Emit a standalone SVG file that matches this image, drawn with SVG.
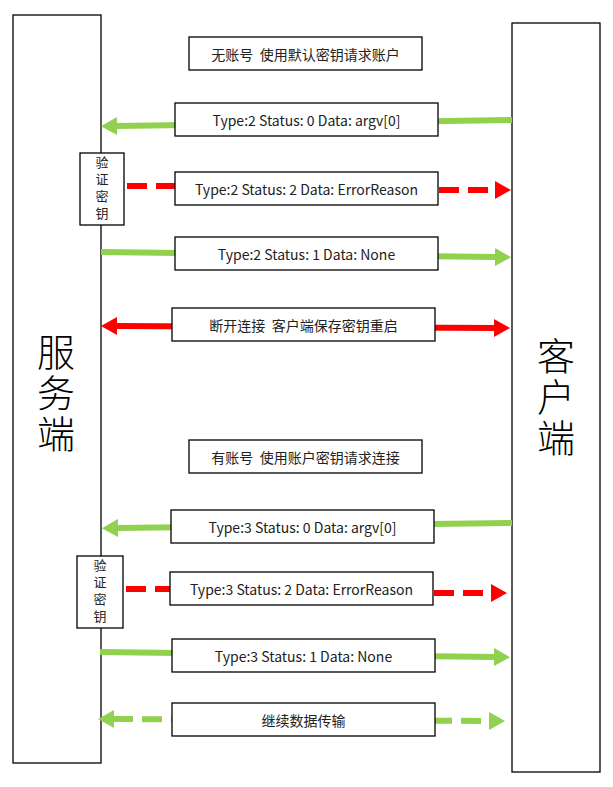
<svg xmlns="http://www.w3.org/2000/svg" width="613" height="787" viewBox="0 0 613 787">
<style>
.box{fill:#fff;stroke:#000;stroke-width:1.3}
.t{font-family:"Noto Sans CJK SC","Noto Sans",sans-serif;font-size:14px;fill:#222;text-anchor:middle;dominant-baseline:central}
.big{font-family:"Noto Sans CJK SC",sans-serif;font-size:38px;font-weight:300;fill:#000;writing-mode:vertical-rl;text-orientation:upright;letter-spacing:3px}
.v{font-family:"Noto Sans CJK SC",sans-serif;font-size:13px;fill:#222;writing-mode:vertical-rl;text-orientation:upright;letter-spacing:4px}
.g{stroke:#92D050;stroke-width:6;fill:none}
.r{stroke:#FF0000;stroke-width:6;fill:none}
.d{stroke-dasharray:20 9}
</style>
<defs>
<marker id="hg" viewBox="0 0 16 18" refX="1" refY="9" markerWidth="16" markerHeight="18" markerUnits="userSpaceOnUse" orient="auto-start-reverse"><path d="M0,0 L16,9 L0,18 z" fill="#92D050"/></marker>
<marker id="hr" viewBox="0 0 16 18" refX="1" refY="9" markerWidth="16" markerHeight="18" markerUnits="userSpaceOnUse" orient="auto-start-reverse"><path d="M0,0 L16,9 L0,18 z" fill="#FF0000"/></marker>
</defs>
<g id="server"><rect class="box" x="13" y="15" width="88" height="748"/>
<text class="big" x="56" y="333">服务端</text></g>
<g id="client"><rect class="box" x="512" y="23" width="88" height="749"/>
<text class="big" x="556" y="337">客户端</text></g>
<g id="connectors">
<line class="g" x1="512" y1="120" x2="116" y2="126" marker-end="url(#hg)"/>
<line class="r d" x1="127" y1="186" x2="180" y2="186"/>
<line class="r d" x1="439" y1="190" x2="496" y2="190" marker-end="url(#hr)"/>
<line class="g" x1="101" y1="252" x2="496" y2="257" marker-end="url(#hg)"/>
<line class="r" x1="116" y1="326" x2="495" y2="328" marker-start="url(#hr)" marker-end="url(#hr)"/>
<line class="g" x1="512" y1="523" x2="117" y2="528" marker-end="url(#hg)"/>
<line class="r d" x1="126" y1="589" x2="175" y2="589"/>
<line class="r d" x1="434" y1="593" x2="492" y2="593" marker-end="url(#hr)"/>
<line class="g" x1="100" y1="652" x2="495" y2="657" marker-end="url(#hg)"/>
<line class="g d" x1="113" y1="719" x2="490" y2="721" marker-start="url(#hg)" marker-end="url(#hg)"/>
</g>
<g id="n1"><rect class="box" x="189" y="37" width="233" height="33"/><text class="t" x="305.5" y="53.5">无账号&#160; 使用默认密钥请求账户</text></g>
<g id="n2"><rect class="box" x="175" y="103" width="263" height="33"/><text class="t" x="306.5" y="119.5">Type:2 Status: 0 Data: argv[0]</text></g>
<g id="v1"><rect class="box" x="80" y="153" width="44" height="72"/><text class="v" x="102" y="156">验证密钥</text></g>
<g id="n3"><rect class="box" x="175" y="172" width="263" height="33"/><text class="t" x="306.5" y="188.5">Type:2 Status: 2 Data: ErrorReason</text></g>
<g id="n4"><rect class="box" x="175" y="237" width="263" height="33"/><text class="t" x="306.5" y="253.5">Type:2 Status: 1 Data: None</text></g>
<g id="n5"><rect class="box" x="172" y="308" width="263" height="33"/><text class="t" x="303.5" y="324.5">断开连接&#160; 客户端保存密钥重启</text></g>
<g id="n6"><rect class="box" x="189" y="440" width="233" height="33"/><text class="t" x="305.5" y="456.5">有账号&#160; 使用账户密钥请求连接</text></g>
<g id="n7"><rect class="box" x="171" y="510" width="263" height="33"/><text class="t" x="302.5" y="526.5">Type:3 Status: 0 Data: argv[0]</text></g>
<g id="v2"><rect class="box" x="77" y="556" width="46" height="72"/><text class="v" x="100" y="559">验证密钥</text></g>
<g id="n8"><rect class="box" x="170" y="572" width="263" height="33"/><text class="t" x="301.5" y="588.5">Type:3 Status: 2 Data: ErrorReason</text></g>
<g id="n9"><rect class="box" x="172" y="639" width="263" height="33"/><text class="t" x="303.5" y="655.5">Type:3 Status: 1 Data: None</text></g>
<g id="n10"><rect class="box" x="172" y="703" width="263" height="33"/><text class="t" x="303.5" y="719.5">继续数据传输</text></g>
</svg>
